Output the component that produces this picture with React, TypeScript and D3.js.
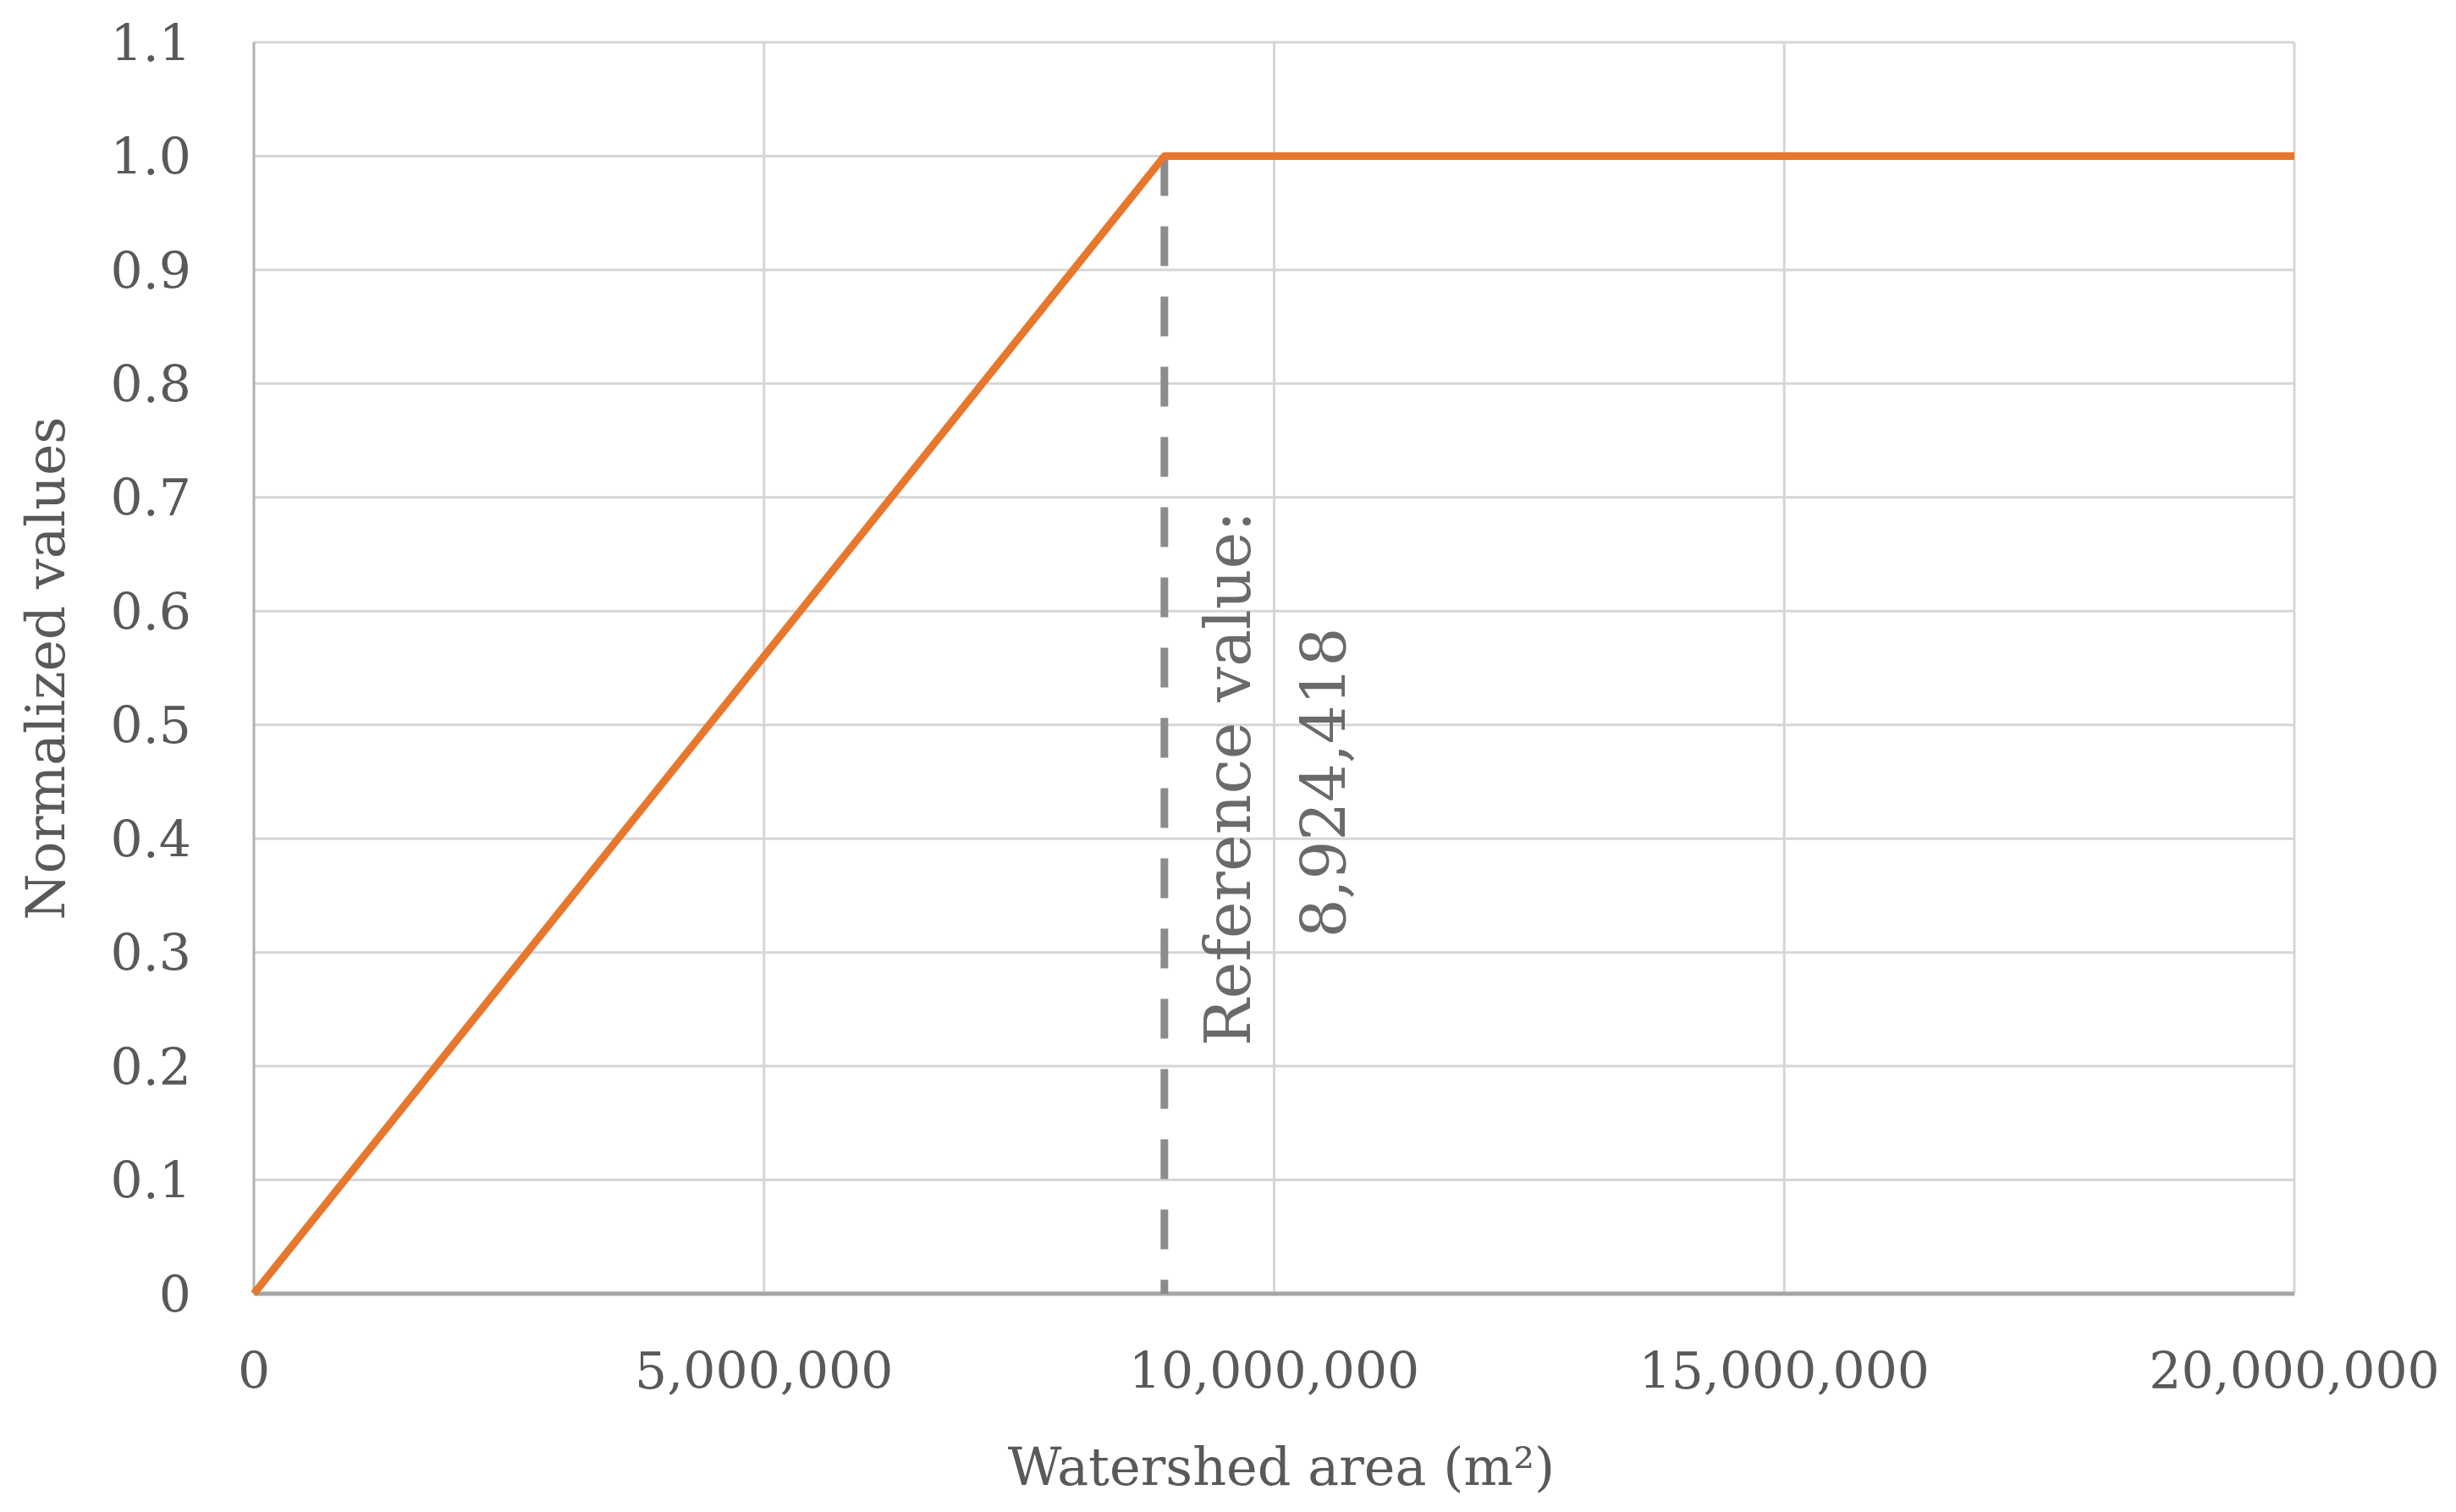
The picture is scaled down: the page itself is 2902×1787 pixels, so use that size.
import React, { useEffect, useRef } from "react";
import * as d3 from "d3";

const W = 2902;
const H = 1787;

const xTicks = [0, 5000000, 10000000, 15000000, 20000000];
const yTicks = [0, 0.1, 0.2, 0.3, 0.4, 0.5, 0.6, 0.7, 0.8, 0.9, 1.0, 1.1];
const areaValues = [0, 8924418, 20000000];
const normValues = [0, 1, 1];
const referenceValue = 8924418;
const xTitle = "Watershed area (m²)";
const yTitle = "Normalized values";
const refLabel1 = "Reference value:";
const refLabel2 = "8,924,418";

const M = { left: 300, right: 2711, top: 50, bottom: 1529 };
const FONT = "'DejaVu Serif', serif";
const TEXT = "#595959";

export default function App() {
  const ref = useRef<SVGSVGElement>(null);
  useEffect(() => {
    document.body.style.margin = "0";
    const svg = d3.select(ref.current);
    svg.selectAll("*").remove();
    const x = d3.scaleLinear().domain([0, 20000000]).range([M.left, M.right]);
    const y = d3.scaleLinear().domain([0, 1.1]).range([M.bottom, M.top]);

    // gridlines
    svg.append("g").selectAll("line").data(yTicks.filter((t) => t > 0)).join("line")
      .attr("x1", M.left).attr("x2", M.right)
      .attr("y1", (d) => y(d)).attr("y2", (d) => y(d))
      .attr("stroke", "#d6d6d6").attr("stroke-width", 3);
    svg.append("g").selectAll("line").data(xTicks.filter((t) => t > 0)).join("line")
      .attr("x1", (d) => x(d)).attr("x2", (d) => x(d))
      .attr("y1", M.top).attr("y2", M.bottom)
      .attr("stroke", "#d6d6d6").attr("stroke-width", 3);
    // left axis
    svg.append("line").attr("x1", M.left).attr("x2", M.left).attr("y1", M.top).attr("y2", M.bottom)
      .attr("stroke", "#b0b0b0").attr("stroke-width", 3);
    // bottom axis
    svg.append("line").attr("x1", M.left).attr("x2", M.right).attr("y1", M.bottom).attr("y2", M.bottom)
      .attr("stroke", "#a6a6a6").attr("stroke-width", 5);

    // reference dashed line
    svg.append("line")
      .attr("x1", x(referenceValue)).attr("x2", x(referenceValue))
      .attr("y1", y(1)).attr("y2", y(0))
      .attr("stroke", "#8c8c8c").attr("stroke-width", 9)
      .attr("stroke-dasharray", "47,36");

    // main line
    const line = d3.line<number>().x((d, i) => x(areaValues[i])).y((d) => y(d));
    svg.append("path").datum(normValues).attr("d", line)
      .attr("fill", "none").attr("stroke", "#E8772E").attr("stroke-width", 9)
      .attr("stroke-linejoin", "round");

    // y tick labels
    svg.append("g").selectAll("text").data(yTicks).join("text")
      .attr("x", 226).attr("y", (d) => y(d))
      .attr("dy", "0.36em").attr("text-anchor", "end")
      .attr("font-family", FONT).attr("font-size", 60).attr("fill", TEXT)
      .text((d) => (d === 0 ? "0" : d3.format(".1f")(d)));

    // x tick labels
    svg.append("g").selectAll("text").data(xTicks).join("text")
      .attr("x", (d) => x(d)).attr("y", 1641)
      .attr("text-anchor", "middle")
      .attr("font-family", FONT).attr("font-size", 60).attr("fill", TEXT)
      .text((d) => (d === 0 ? "0" : d3.format(",")(d)));

    // axis titles
    svg.append("text").attr("x", 1514).attr("y", 1755)
      .attr("text-anchor", "middle").attr("font-family", FONT).attr("font-size", 62).attr("fill", TEXT)
      .text(xTitle);
    svg.append("text").attr("transform", `translate(76,790) rotate(-90)`)
      .attr("text-anchor", "middle").attr("font-family", FONT).attr("font-size", 63).attr("fill", TEXT)
      .text(yTitle);

    // reference labels
    svg.append("text").attr("transform", `translate(1477,920) rotate(-90)`)
      .attr("text-anchor", "middle").attr("font-family", FONT).attr("font-size", 74).attr("fill", "#6a6a6a")
      .text(refLabel1);
    svg.append("text").attr("transform", `translate(1590,925) rotate(-90)`)
      .attr("text-anchor", "middle").attr("font-family", FONT).attr("font-size", 72).attr("fill", "#6a6a6a")
      .text(refLabel2);
  }, []);
  return <svg ref={ref} width={W} height={H} style={{ display: "block", background: "#fff" }} />;
}
